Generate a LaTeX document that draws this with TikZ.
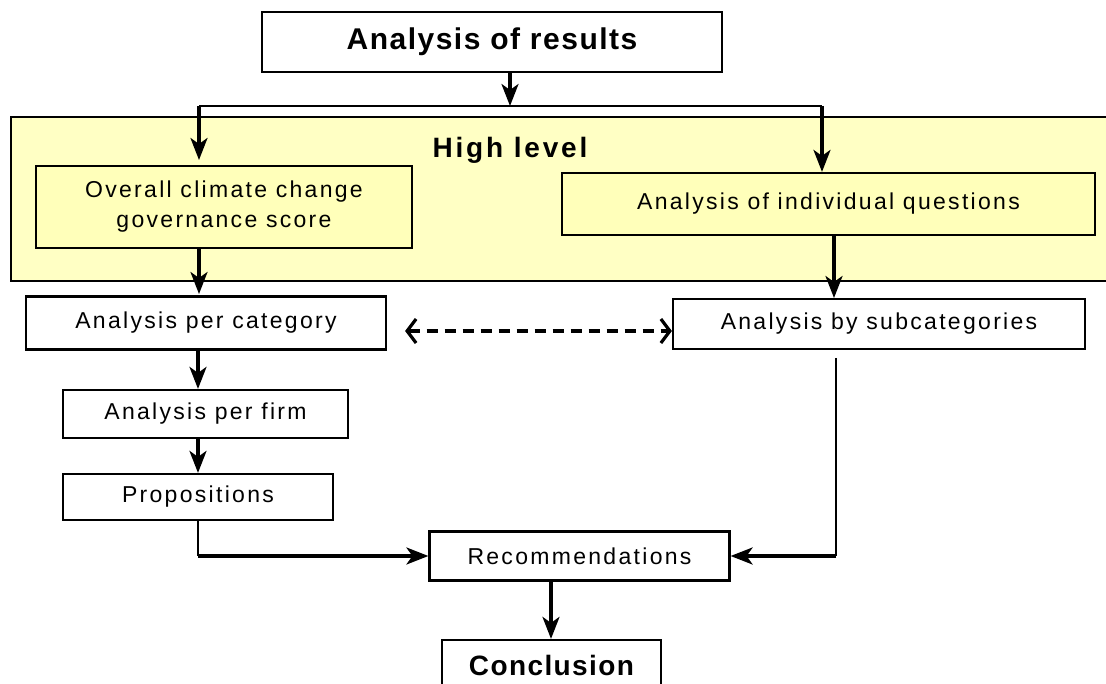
\documentclass[tikz,border=0pt]{standalone}
\usepackage{fontspec}
\setmainfont{Liberation Sans}
\usetikzlibrary{arrows.meta}
\definecolor{bandyellow}{RGB}{255,255,196}
\definecolor{boxyellow}{RGB}{255,255,186}
\tikzset{
  box/.style={draw=black, line width=2.2pt, fill=white, inner sep=0pt, align=center,
    font=\fontsize{23}{30}\selectfont\addfontfeature{LetterSpace=10}},
  ybox/.style={box, fill=boxyellow},
  bbox/.style={box, font=\fontsize{30}{34}\selectfont\bfseries\addfontfeature{LetterSpace=5}},
  arr/.style={line width=3.2pt, -{Stealth[length=22pt,width=17pt,inset=6pt]}},
  thin/.style={line width=2pt},
  dbl/.style={line width=3.2pt, dash pattern=on 11pt off 7pt, {Straight Barb[length=9pt,width=24pt,line width=3.2pt]}-{Straight Barb[length=9pt,width=24pt,line width=3.2pt]}},
}
\begin{document}
\begin{tikzpicture}[x=1pt,y=-1pt]
\useasboundingbox (0,0) rectangle (1106,684);
\fill[white] (0,0) rectangle (1106,684);
% band
\filldraw[fill=bandyellow, draw=black, line width=2.2pt] (11,117) rectangle (1115,281);
\node[font=\fontsize{28}{32}\selectfont\bfseries\addfontfeature{LetterSpace=10}] (hl) at (510,150) {High level};
% boxes
\node[bbox, minimum width=460pt, minimum height=60pt] (res) at (492,42) {Analysis of results};
\node[ybox, minimum width=376pt, minimum height=82pt] (ov) at (224,207) {Overall climate change\\governance score};
\node[ybox, minimum width=533pt, minimum height=62pt] (ind) at (828.5,204) {Analysis of individual questions};
\node[box, minimum width=360pt, minimum height=53pt] (cat) at (206,323) {Analysis per category};
\node[box, minimum width=412pt, minimum height=50pt] (sub) at (879,324) {Analysis by subcategories};
\node[box, minimum width=285pt, minimum height=48pt] (firm) at (205.5,414) {Analysis per firm};
\node[box, minimum width=270pt, minimum height=46pt] (prop) at (198,497) {Propositions};
\node[box, minimum width=300pt, minimum height=49pt] (rec) at (579.5,556) {Recommendations};
\node[bbox, font=\fontsize{28}{32}\selectfont\bfseries\addfontfeature{LetterSpace=5}, minimum width=219pt, minimum height=50pt] (conc) at (551.5,665) {Conclusion};
% coordinates
\coordinate (split) at (510,106);
\coordinate (sl) at (199,106);
\coordinate (sr) at (822,106);
\coordinate (subout) at (836,358);
\coordinate (pl) at (198,556);
\coordinate (sc) at (836,556);
% connectors
\draw[arr] (res.south -| split) -- (split);
\draw[thin] (sl) -- (sr);
\draw[arr] (sl) -- (199,160);
\draw[arr] (sr) -- (sr |- ind.north);
\draw[arr] (ov.south -| 199,0) -- (199,294);
\draw[arr] (ind.south -| 834,0) -- (834,298);
\draw[arr] (cat.south -| 198,0) -- (firm.north -| 198,0);
\draw[arr] (firm.south -| 198,0) -- (prop.north -| 198,0);
\draw[thin] (prop.south -| pl) -- (pl);
\draw[arr] (pl) -- (rec.west |- pl);
\draw[thin] (subout) -- (sc);
\draw[arr] (sc) -- (rec.east |- sc);
\draw[arr] (rec.south -| 551,0) -- (conc.north -| 551,0);
\draw[dbl] (cat.east |- 0,331) ++(18,0) coordinate (da) -- (sub.west |- 0,331);
\end{tikzpicture}
\end{document}
